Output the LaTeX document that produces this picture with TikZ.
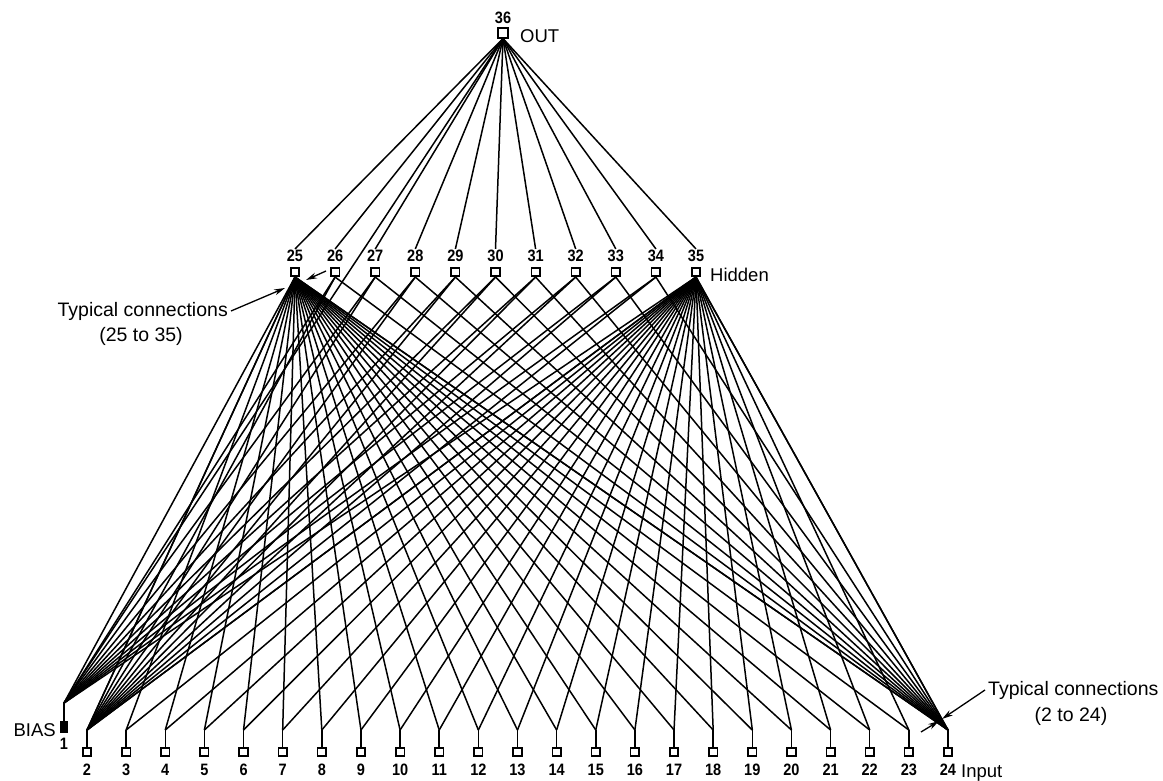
\documentclass[tikz,border=0pt]{standalone}
\usepackage{fontspec}
\setmainfont{Liberation Sans}
\newfontfamily\numfont[FakeStretch=0.88]{Liberation Sans Bold}
\usetikzlibrary{arrows.meta,backgrounds}
\tikzset{
  wire/.style={line width=1.5pt},
  unit/.style={draw, line width=1.6pt, minimum size=8.5pt, inner sep=0pt, fill=white},
  num/.style={font=\numfont\fontsize{16.5}{16.5}\selectfont, inner sep=1pt},
  lbl/.style={font=\fontsize{18.5}{18.5}\selectfont, inner sep=0pt},
  note/.style={font=\fontsize{19.5}{22}\selectfont, inner sep=3pt},
  pointer/.style={line width=1.3pt, -{Stealth[length=11pt,width=6pt]}}
}
\begin{document}
\begin{tikzpicture}[x=1pt,y=-1pt]
\useasboundingbox (0,0) rectangle (1163,781);
% output unit
\node[unit, minimum size=9.5pt] (out) at (503,33) {};
\node[num] (outl) at (503,18) {36};
\node[lbl, anchor=west] (outt) at (520,36) {OUT};
% hidden units
\foreach \k in {25,...,35} {
  \pgfmathsetmacro\hx{295+(\k-25)*40.1}
  \node[unit] (h\k) at (\hx,272) {};
  \node[num] (hl\k) at (\hx,256) {\k};
}
\node[lbl, anchor=west] (hidt) at (710,275) {Hidden};
% bias unit
\node[draw, fill=black, line width=1pt, minimum width=7pt, minimum height=11pt, inner sep=0pt] (b1) at (64,727) {};
\coordinate (j1) at (64,703);
\node[num] (bl1) at (64,744) {1};
\node[lbl, anchor=east] (biast) at (56,730) {BIAS};
% input units
\foreach \i in {2,...,24} {
  \pgfmathsetmacro\ix{87+(\i-2)*39.136}
  \node[unit] (i\i) at (\ix,752) {};
  \node[num] (il\i) at (\ix,770) {\i};
  \coordinate (j\i) at (\ix,730);
}
\node[lbl, anchor=west] (inpt) at (961,773) {Input};
% annotations
\node[note, anchor=east] (nt1) at (231,311) {Typical connections};
\node[note] (nt2) at (141,336) {(25 to 35)};
\coordinate (a1) at (285,288);
\coordinate (a2s) at (326,271);
\coordinate (a2) at (306,280);
\node[note, anchor=west] (nt3) at (985,690) {Typical connections};
\node[note] (nt4) at (1071,716) {(2 to 24)};
\coordinate (a3) at (942,719);
\coordinate (a4s) at (921,732);
\coordinate (a4) at (939,721);
\begin{scope}[on background layer]
  \draw[wire] (b1.north) -- (j1);
  \foreach \i in {2,...,24} { \draw[wire] (i\i.north) -- (j\i); }
  \foreach \k in {25,...,35} {
    \draw[wire] (out.south) -- (hl\k.north);
    \draw[wire] (j1) -- (h\k.south);
    \draw[wire] (j2) -- (h\k.south);
    \draw[wire] (j24) -- (h\k.south);
  }
  \draw[wire] (out.south) -- (j1);
  \foreach \i in {2,...,24} {
    \draw[wire] (h25.south) -- (j\i);
    \draw[wire] (h35.south) -- (j\i);
  }
\end{scope}
\draw[pointer] (nt1.east) -- (a1);
\draw[pointer] (a2s) -- (a2);
\draw[pointer] (nt3.west) -- (a3);
\draw[pointer] (a4s) -- (a4);
\end{tikzpicture}
\end{document}
